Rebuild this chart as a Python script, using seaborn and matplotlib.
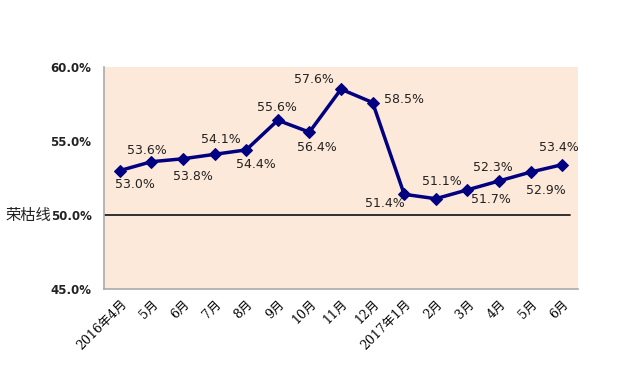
import matplotlib
matplotlib.use("Agg")
import matplotlib.pyplot as plt
import seaborn as sns
import pandas as pd
import numpy as np

months = ["2016年4月", "5月", "6月", "7月", "8月", "9月", "10月", "11月", "12月",
          "2017年1月", "2月", "3月", "4月", "5月", "6月"]
values = [53.0, 53.6, 53.8, 54.1, 54.4, 56.4, 55.6, 58.5, 57.6,
          51.4, 51.1, 51.7, 52.3, 52.9, 53.4]
# data labels as printed in the chart
label_texts = ["53.0%", "53.6%", "53.8%", "54.1%", "54.4%", "55.6%", "56.4%", "57.6%", "58.5%",
               "51.4%", "51.1%", "51.7%", "52.3%", "52.9%", "53.4%"]
yticks = [45.0, 50.0, 55.0, 60.0]
threshold = 50.0

# label offsets in pixels (layout only)
label_offsets = [(15, -14), (-5, 11), (10, -18), (6, 15), (10, -15), (-1, 13), (7, -15),
                 (-27, 10), (31, 3), (-19, -9), (6, 17), (24, -10), (-6, 13), (15, -18), (-3, 17)]

sns.set_theme(style="white")
plt.rcParams['font.family'] = ['DejaVu Sans', 'Noto Sans CJK SC']

fig = plt.figure(figsize=(6.25, 3.71), dpi=100)
ax = fig.add_axes([0.1664, 0.221, 0.7584, 0.5984])
ax.set_facecolor("#FDE9D9")

df = pd.DataFrame({"idx": np.arange(len(months)), "val": values})
sns.lineplot(data=df, x="idx", y="val", ax=ax, color="#000080", linewidth=2.5,
             marker="D", markersize=6, markeredgecolor="#000080", zorder=3)

ax.axhline(threshold, xmin=0, xmax=0.983, color="#222222", linewidth=1.3, zorder=2)

for i, t in enumerate(label_texts):
    dx, dy = label_offsets[i]
    ax.annotate(t, (i, values[i]), xytext=(dx, dy), textcoords="offset pixels",
                ha="center", va="center", fontsize=9, color="#222222")

ax.set_xlim(-0.5, len(months) - 0.5)
ax.set_ylim(45, 60)
ax.set_yticks(yticks)
ax.set_yticklabels([f"{v:.1f}%" for v in yticks], fontsize=8.5, fontweight="bold", color="#222222")
ax.set_xticks(np.arange(len(months)))
ax.set_xticklabels(months, rotation=45, ha="right", rotation_mode="anchor",
                   fontsize=9, family=['DejaVu Serif', 'Noto Sans CJK SC'], color="black")
ax.tick_params(axis="y", length=0, pad=9)
ax.tick_params(axis="x", length=0, pad=6)
ax.annotate("荣枯线", (0, threshold), xycoords=ax.get_yaxis_transform(),
            xytext=(-53, 0), textcoords="offset pixels",
            ha="right", va="center", fontsize=11, family=['Noto Sans CJK SC'], color="#222222")
ax.set_xlabel("")
ax.set_ylabel("")
for s in ["top", "right"]:
    ax.spines[s].set_visible(False)
for s in ["left", "bottom"]:
    ax.spines[s].set_color("#AAAAAA")
    ax.spines[s].set_linewidth(1.2)

fig.savefig("out.png", dpi=100, facecolor="white")
